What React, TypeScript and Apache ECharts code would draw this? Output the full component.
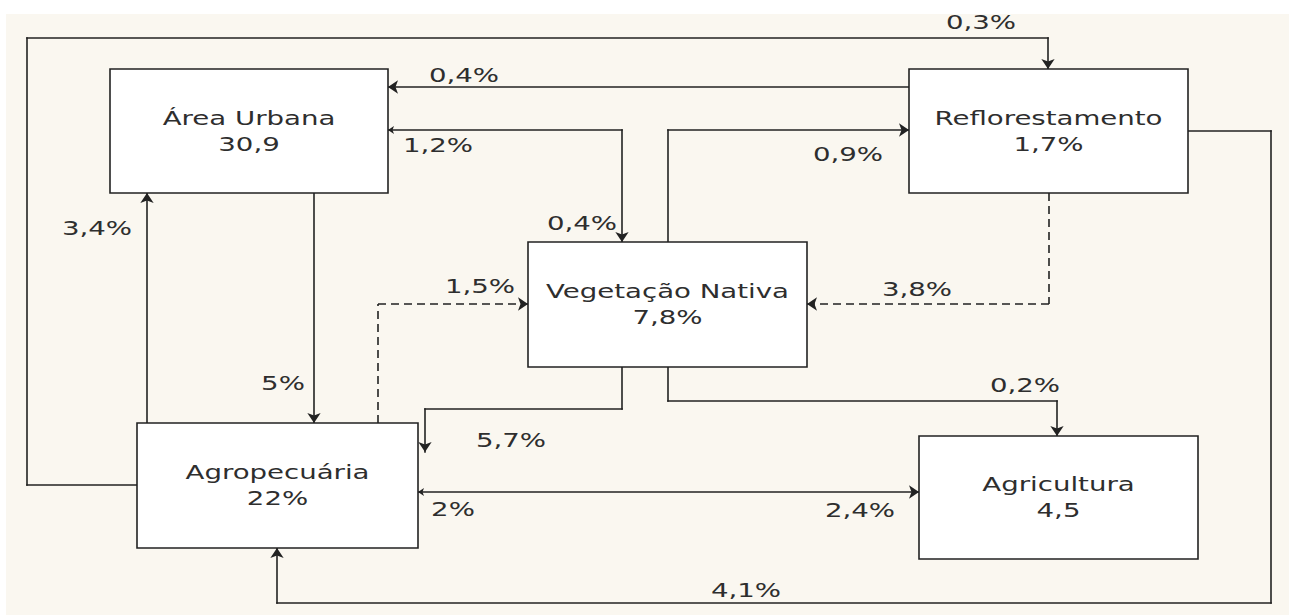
import React, { useEffect, useRef } from 'react';
import * as echarts from 'echarts';

const W = 1289;
const H = 615;

// ---- content ----
const nodeNames = ['Área Urbana', 'Reflorestamento', 'Vegetação Nativa', 'Agropecuária', 'Agricultura'];
const nodeValues = ['30,9', '1,7%', '7,8%', '22%', '4,5'];

const flowLabels = ['0,3%', '0,4%', '1,2%', '0,4%', '0,9%', '5%', '3,4%', '1,5%', '3,8%', '5,7%', '0,2%', '2%', '2,4%', '4,1%'];

// ---- layout (pixel space, mapped 1:1 by hidden value axes) ----
const nodeBoxes = [
  [110, 69, 388, 193],
  [909, 69, 1188, 193],
  [528, 242, 807, 367],
  [137, 423, 418, 548],
  [919, 436, 1198, 559],
];

const flowLabelPos = [
  [981, 22], [464, 75], [438, 145], [582, 223], [848, 154], [283, 383], [97, 228],
  [480, 286], [917, 289], [511, 440], [1025, 385], [453, 509], [860, 510], [746, 590],
];

// path waypoints
const edgePaths = [
  [[137, 485], [27, 485], [27, 38], [1048, 38], [1048, 69]],
  [[909, 87], [388, 87]],
  [[388, 130], [622, 130], [622, 242]],
  [[668, 242], [668, 130], [909, 130]],
  [[314, 193], [314, 423]],
  [[147, 423], [147, 193]],
  [[378, 423], [378, 304], [528, 304]],
  [[1049, 193], [1049, 304], [807, 304]],
  [[622, 367], [622, 409], [425, 409], [425, 452]],
  [[668, 367], [668, 401], [1057, 401], [1057, 436]],
  [[418, 492], [919, 492]],
  [[1188, 131], [1271, 131], [1271, 603], [277, 603], [277, 548]],
];
const edgeDashed = [false, false, false, false, false, false, true, true, false, false, false, false];
const edgeArrowStart = [false, false, true, false, false, false, false, false, false, false, true, false];

const LINE_COLOR = '#222222';
const TEXT_COLOR = '#2e2e2e';
const FONT = '20px "DejaVu Sans"';
const SX = 1.38;
const ARROW = [6, 10];

function buildLineSeries() {
  const groups: Record<string, any[]> = {};
  edgePaths.forEach((pts, ei) => {
    const n = pts.length - 1;
    for (let i = 0; i < n; i++) {
      const a = pts[i];
      const b = pts[i + 1];
      const from = edgeArrowStart[ei] && i === 0;
      const to = i === n - 1;
      const key = `${edgeDashed[ei] ? 'd' : 's'}-${from ? 1 : 0}-${to ? 1 : 0}`;
      (groups[key] = groups[key] || []).push({ coords: [a, b] });
    }
  });
  return Object.keys(groups).map((key) => {
    const [st, f, t] = key.split('-');
    return {
      type: 'lines',
      coordinateSystem: 'cartesian2d',
      silent: true,
      z: 3,
      symbol: [f === '1' ? 'arrow' : 'none', t === '1' ? 'arrow' : 'none'],
      symbolSize: ARROW,
      lineStyle: {
        color: LINE_COLOR,
        width: 1.6,
        opacity: 1,
        type: st === 'd' ? [8, 5] : 'solid',
        cap: st === 'd' ? 'butt' : 'square',
      },
      itemStyle: { color: LINE_COLOR },
      data: groups[key],
    };
  });
}

function textEl(x: number, y: number, text: string) {
  return {
    type: 'text',
    x,
    y,
    scaleX: SX,
    scaleY: 1,
    style: {
      x: 0,
      y: 0,
      text,
      font: FONT,
      fill: TEXT_COLOR,
      align: 'center',
      verticalAlign: 'middle',
    },
  };
}

export default function App() {
  const ref = useRef<HTMLDivElement>(null);
  useEffect(() => {
    document.body.style.margin = '0';
    if (!ref.current) return;
    const chart = echarts.init(ref.current, undefined, { renderer: 'svg' });
    const option: any = {
      animation: false,
      backgroundColor: '#ffffff',
      grid: { left: 0, right: 0, top: 0, bottom: 0 },
      xAxis: { type: 'value', min: 0, max: W, show: false },
      yAxis: { type: 'value', min: 0, max: H, inverse: true, show: false },
      graphic: [
        {
          type: 'rect',
          z: 0,
          shape: { x: 6, y: 14, width: W - 6, height: H - 14 },
          style: { fill: '#faf7f0' },
        },
      ],
      series: [
        ...buildLineSeries(),
        {
          type: 'custom',
          coordinateSystem: 'cartesian2d',
          z: 5,
          silent: true,
          data: nodeBoxes.map((b, i) => [b[0], b[1], b[2], b[3], i]),
          renderItem: (params: any, api: any) => {
            const i = params.dataIndex;
            const b = nodeBoxes[i];
            const p0 = api.coord([b[0], b[1]]);
            const p1 = api.coord([b[2], b[3]]);
            const cx = (p0[0] + p1[0]) / 2;
            const cy = (p0[1] + p1[1]) / 2;
            return {
              type: 'group',
              children: [
                {
                  type: 'rect',
                  shape: { x: p0[0], y: p0[1], width: p1[0] - p0[0], height: p1[1] - p0[1] },
                  style: { fill: '#ffffff', stroke: LINE_COLOR, lineWidth: 1.6 },
                },
                textEl(cx, cy - 13, nodeNames[i]),
                textEl(cx, cy + 13, nodeValues[i]),
              ],
            };
          },
        },
        {
          type: 'custom',
          coordinateSystem: 'cartesian2d',
          z: 6,
          silent: true,
          data: flowLabelPos.map((p, i) => [p[0], p[1], i]),
          renderItem: (params: any, api: any) => {
            const i = params.dataIndex;
            const p = api.coord([flowLabelPos[i][0], flowLabelPos[i][1]]);
            return textEl(p[0], p[1], flowLabels[i]);
          },
        },
      ],
    };
    chart.setOption(option);
    return () => chart.dispose();
  }, []);
  return <div ref={ref} style={{ width: W, height: H }} />;
}
